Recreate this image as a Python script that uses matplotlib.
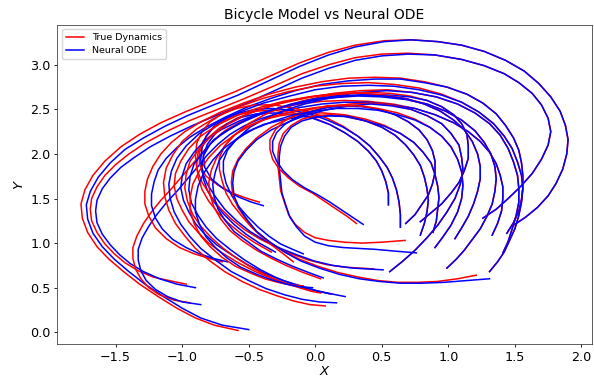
import matplotlib
matplotlib.use("Agg")
import matplotlib.pyplot as plt

# ---- trajectories: (x, y) points, start -> end ----
true_A = [(1.48,1.19),(1.58,1.29),(1.67,1.40),(1.75,1.53),(1.81,1.67),(1.86,1.83),(1.89,2.00),(1.90,2.16),(1.88,2.32),(1.84,2.48),(1.77,2.64),(1.68,2.79),(1.57,2.93),(1.43,3.05),(1.27,3.15),(1.10,3.22),(0.92,3.26),(0.72,3.28),(0.52,3.27),(0.30,3.22),(0.10,3.14),(-0.12,3.02),(-0.36,2.86),(-0.60,2.70),(-0.80,2.58),(-0.98,2.47),(-1.16,2.35),(-1.32,2.22),(-1.46,2.08),(-1.58,1.92),(-1.67,1.76),(-1.73,1.60),(-1.76,1.44),(-1.75,1.28),(-1.71,1.12),(-1.64,0.96),(-1.55,0.82),(-1.44,0.68),(-1.32,0.54),(-1.18,0.40),(-1.04,0.27),(-0.90,0.16),(-0.76,0.08),(-0.58,0.02)]
node_A = [(1.48,1.19),(1.58,1.29),(1.67,1.40),(1.75,1.53),(1.81,1.67),(1.86,1.83),(1.89,2.00),(1.90,2.16),(1.88,2.32),(1.84,2.48),(1.77,2.64),(1.68,2.79),(1.57,2.93),(1.43,3.05),(1.27,3.15),(1.10,3.22),(0.92,3.26),(0.72,3.28),(0.52,3.26),(0.30,3.20),(0.10,3.11),(-0.12,2.98),(-0.35,2.82),(-0.58,2.66),(-0.78,2.54),(-0.96,2.43),(-1.13,2.31),(-1.29,2.18),(-1.43,2.05),(-1.54,1.90),(-1.63,1.74),(-1.69,1.58),(-1.72,1.43),(-1.71,1.27),(-1.67,1.11),(-1.60,0.96),(-1.51,0.82),(-1.40,0.68),(-1.28,0.54),(-1.14,0.40),(-1.00,0.27),(-0.86,0.16),(-0.70,0.08),(-0.50,0.03)]

true_B = [(1.26,1.28),(1.36,1.38),(1.45,1.50),(1.54,1.63),(1.63,1.78),(1.70,1.94),(1.75,2.10),(1.77,2.25),(1.75,2.40),(1.70,2.55),(1.63,2.68),(1.53,2.80),(1.42,2.90),(1.27,2.99),(1.10,3.06),(0.90,3.11),(0.70,3.13),(0.50,3.12),(0.30,3.08),(0.10,3.00),(-0.10,2.90),(-0.33,2.75),(-0.55,2.61),(-0.75,2.49),(-0.95,2.37),(-1.12,2.25),(-1.28,2.12),(-1.40,2.00),(-1.50,1.88),(-1.58,1.76),(-1.64,1.63),(-1.68,1.50),(-1.69,1.38),(-1.68,1.25),(-1.64,1.12),(-1.58,0.99),(-1.51,0.88),(-1.43,0.78),(-1.33,0.69),(-1.22,0.62),(-1.10,0.58),(-0.97,0.54)]
node_B = [(1.26,1.28),(1.36,1.38),(1.45,1.50),(1.54,1.63),(1.63,1.78),(1.70,1.94),(1.75,2.10),(1.77,2.25),(1.75,2.40),(1.70,2.55),(1.63,2.68),(1.53,2.80),(1.42,2.90),(1.27,2.99),(1.10,3.06),(0.90,3.11),(0.70,3.12),(0.50,3.10),(0.30,3.05),(0.10,2.96),(-0.10,2.85),(-0.32,2.70),(-0.53,2.56),(-0.73,2.44),(-0.92,2.32),(-1.09,2.20),(-1.24,2.08),(-1.36,1.96),(-1.46,1.85),(-1.54,1.73),(-1.60,1.61),(-1.64,1.48),(-1.65,1.36),(-1.64,1.23),(-1.60,1.10),(-1.54,0.98),(-1.47,0.87),(-1.39,0.77),(-1.29,0.68),(-1.17,0.60),(-1.04,0.54),(-0.90,0.50)]

true_C = [(1.33,1.09),(1.37,1.22),(1.40,1.36),(1.41,1.50),(1.41,1.63),(1.39,1.76),(1.36,1.89),(1.31,2.02),(1.24,2.14),(1.15,2.25),(1.04,2.35),(0.90,2.44),(0.75,2.51),(0.58,2.56),(0.40,2.59),(0.22,2.60),(0.05,2.59),(-0.12,2.56),(-0.28,2.51),(-0.43,2.44),(-0.56,2.36),(-0.67,2.27),(-0.76,2.16),(-0.84,2.03),(-0.92,1.89),(-1.00,1.75),(-1.08,1.61),(-1.16,1.48),(-1.23,1.35),(-1.29,1.22),(-1.34,1.08),(-1.37,0.95),(-1.37,0.83),(-1.35,0.71),(-1.31,0.60),(-1.25,0.50),(-1.17,0.42),(-1.06,0.36),(-0.94,0.33)]
node_C = [(1.33,1.09),(1.37,1.22),(1.40,1.36),(1.41,1.50),(1.41,1.63),(1.39,1.76),(1.36,1.89),(1.31,2.02),(1.24,2.14),(1.15,2.25),(1.04,2.35),(0.90,2.44),(0.75,2.51),(0.58,2.55),(0.40,2.58),(0.22,2.58),(0.05,2.56),(-0.12,2.52),(-0.27,2.46),(-0.42,2.39),(-0.54,2.31),(-0.64,2.22),(-0.73,2.11),(-0.81,1.99),(-0.88,1.86),(-0.96,1.72),(-1.04,1.58),(-1.12,1.45),(-1.19,1.32),(-1.25,1.19),(-1.30,1.06),(-1.33,0.93),(-1.33,0.81),(-1.31,0.69),(-1.27,0.58),(-1.20,0.48),(-1.11,0.40),(-1.00,0.34),(-0.86,0.31)]

true_D = [(1.44,1.11),(1.49,1.23),(1.53,1.36),(1.55,1.49),(1.56,1.62),(1.56,1.76),(1.55,1.90),(1.53,2.04),(1.49,2.18),(1.43,2.32),(1.36,2.45),(1.26,2.57),(1.14,2.67),(0.99,2.75),(0.82,2.81),(0.64,2.85),(0.45,2.86),(0.25,2.85),(0.05,2.81),(-0.15,2.75),(-0.35,2.67),(-0.54,2.57),(-0.71,2.47),(-0.86,2.36),(-0.98,2.25),(-1.08,2.13),(-1.16,2.00),(-1.22,1.86),(-1.26,1.72),(-1.28,1.58),(-1.28,1.44),(-1.25,1.30),(-1.20,1.17),(-1.12,1.05),(-1.02,0.95),(-0.91,0.88),(-0.80,0.83),(-0.70,0.79)]
node_D = [(1.44,1.11),(1.49,1.23),(1.53,1.36),(1.55,1.49),(1.56,1.62),(1.56,1.76),(1.55,1.90),(1.53,2.04),(1.49,2.18),(1.43,2.32),(1.36,2.45),(1.26,2.57),(1.14,2.67),(0.99,2.75),(0.82,2.80),(0.64,2.84),(0.45,2.84),(0.25,2.82),(0.05,2.78),(-0.15,2.71),(-0.34,2.62),(-0.52,2.52),(-0.68,2.41),(-0.82,2.30),(-0.94,2.19),(-1.04,2.07),(-1.12,1.95),(-1.18,1.82),(-1.21,1.69),(-1.23,1.55),(-1.23,1.42),(-1.20,1.28),(-1.15,1.16),(-1.07,1.04),(-0.97,0.95),(-0.87,0.88),(-0.77,0.83),(-0.66,0.79)]

true_E = [(1.41,0.89),(1.45,1.02),(1.48,1.16),(1.51,1.31),(1.53,1.46),(1.53,1.61),(1.52,1.76),(1.49,1.91),(1.45,2.06),(1.39,2.21),(1.31,2.34),(1.20,2.46),(1.07,2.56),(0.91,2.64),(0.73,2.69),(0.54,2.72),(0.34,2.71),(0.14,2.68),(-0.06,2.63),(-0.25,2.57),(-0.43,2.49),(-0.59,2.40),(-0.72,2.29),(-0.82,2.16),(-0.87,2.02),(-0.87,1.88),(-0.82,1.75),(-0.73,1.65),(-0.62,1.56),(-0.51,1.50),(-0.42,1.46)]
node_E = [(1.41,0.89),(1.45,1.02),(1.48,1.16),(1.51,1.31),(1.53,1.46),(1.53,1.61),(1.52,1.76),(1.49,1.91),(1.45,2.06),(1.39,2.21),(1.31,2.34),(1.20,2.46),(1.07,2.56),(0.91,2.64),(0.73,2.69),(0.54,2.71),(0.34,2.69),(0.14,2.65),(-0.06,2.59),(-0.25,2.52),(-0.42,2.44),(-0.57,2.34),(-0.70,2.23),(-0.79,2.11),(-0.84,1.98),(-0.83,1.85),(-0.78,1.72),(-0.69,1.61),(-0.58,1.52),(-0.48,1.46),(-0.39,1.42)]

true_F = [(0.55,1.43),(0.55,1.56),(0.53,1.69),(0.50,1.81),(0.46,1.92),(0.40,2.03),(0.32,2.14),(0.22,2.24),(0.11,2.33),(-0.02,2.41),(-0.16,2.46),(-0.31,2.49),(-0.45,2.48),(-0.58,2.44),(-0.69,2.37),(-0.78,2.27),(-0.84,2.15),(-0.88,2.02),(-0.89,1.88),(-0.88,1.74),(-0.85,1.60),(-0.80,1.47),(-0.73,1.34),(-0.65,1.22),(-0.56,1.11),(-0.46,1.01),(-0.33,0.90)]
node_F = [(0.55,1.43),(0.55,1.56),(0.53,1.69),(0.50,1.81),(0.46,1.92),(0.40,2.03),(0.32,2.14),(0.22,2.24),(0.11,2.33),(-0.02,2.40),(-0.16,2.44),(-0.30,2.46),(-0.44,2.45),(-0.56,2.41),(-0.67,2.33),(-0.75,2.23),(-0.81,2.11),(-0.84,1.98),(-0.85,1.85),(-0.84,1.72),(-0.81,1.59),(-0.76,1.46),(-0.69,1.33),(-0.61,1.21),(-0.52,1.10),(-0.42,1.00),(-0.30,0.90)]

true_G = [(0.64,1.18),(0.64,1.32),(0.63,1.46),(0.61,1.60),(0.58,1.73),(0.54,1.85),(0.48,1.97),(0.41,2.09),(0.32,2.20),(0.21,2.31),(0.09,2.40),(-0.04,2.47),(-0.18,2.52),(-0.32,2.55),(-0.46,2.55),(-0.59,2.51),(-0.70,2.45),(-0.79,2.36),(-0.85,2.25),(-0.89,2.12),(-0.90,1.98),(-0.89,1.83),(-0.85,1.68),(-0.79,1.54),(-0.72,1.40),(-0.63,1.27),(-0.53,1.15),(-0.42,1.05),(-0.30,0.96),(-0.18,0.88),(-0.05,0.81),(0.08,0.76),(0.22,0.73),(0.44,0.71)]
node_G = [(0.64,1.18),(0.64,1.32),(0.63,1.46),(0.61,1.60),(0.58,1.73),(0.54,1.85),(0.48,1.97),(0.41,2.09),(0.32,2.20),(0.21,2.30),(0.09,2.38),(-0.04,2.45),(-0.18,2.49),(-0.32,2.51),(-0.45,2.50),(-0.57,2.46),(-0.68,2.40),(-0.76,2.31),(-0.82,2.20),(-0.85,2.07),(-0.86,1.94),(-0.85,1.80),(-0.81,1.66),(-0.75,1.52),(-0.68,1.38),(-0.59,1.25),(-0.49,1.13),(-0.38,1.03),(-0.26,0.94),(-0.14,0.87),(-0.01,0.80),(0.13,0.75),(0.28,0.72),(0.51,0.70)]

true_H = [(0.885,1.12),(0.91,1.25),(0.92,1.38),(0.93,1.51),(0.92,1.64),(0.90,1.77),(0.87,1.90),(0.81,2.02),(0.74,2.13),(0.64,2.23),(0.52,2.32),(0.38,2.39),(0.22,2.44),(0.06,2.46),(-0.10,2.46),(-0.26,2.43),(-0.40,2.38),(-0.52,2.30),(-0.62,2.20),(-0.68,2.09),(-0.72,1.96),(-0.72,1.83),(-0.70,1.70),(-0.67,1.56),(-0.62,1.43),(-0.55,1.30),(-0.48,1.18),(-0.40,1.07),(-0.32,0.97),(-0.24,0.88),(-0.165,0.79)]
node_H = [(0.885,1.12),(0.91,1.25),(0.92,1.38),(0.93,1.51),(0.92,1.64),(0.90,1.77),(0.87,1.90),(0.81,2.02),(0.74,2.13),(0.64,2.23),(0.52,2.31),(0.38,2.37),(0.22,2.42),(0.06,2.43),(-0.10,2.42),(-0.25,2.38),(-0.39,2.33),(-0.51,2.25),(-0.60,2.15),(-0.66,2.04),(-0.69,1.92),(-0.69,1.80),(-0.67,1.67),(-0.63,1.54),(-0.58,1.42),(-0.51,1.30),(-0.43,1.18),(-0.35,1.08),(-0.26,0.99),(-0.17,0.93),(-0.09,0.88)]

true_I = [(0.99,0.72),(1.06,0.82),(1.12,0.92),(1.18,1.04),(1.24,1.16),(1.29,1.30),(1.33,1.44),(1.35,1.58),(1.36,1.72),(1.35,1.86),(1.32,2.00),(1.27,2.13),(1.20,2.26),(1.10,2.38),(0.98,2.48),(0.84,2.56),(0.68,2.62),(0.50,2.66),(0.32,2.68),(0.13,2.67),(-0.05,2.64),(-0.24,2.59),(-0.42,2.52),(-0.59,2.43),(-0.74,2.32),(-0.86,2.20),(-0.95,2.06),(-1.01,1.92),(-1.05,1.78),(-1.06,1.64),(-1.04,1.50),(-1.00,1.37),(-0.95,1.24),(-0.88,1.12),(-0.80,1.00),(-0.70,0.89),(-0.58,0.78),(-0.45,0.68),(-0.32,0.60),(-0.20,0.54),(-0.08,0.49),(0.125,0.43)]
node_I = [(0.99,0.72),(1.06,0.82),(1.12,0.92),(1.18,1.04),(1.24,1.16),(1.29,1.30),(1.33,1.44),(1.35,1.58),(1.36,1.72),(1.35,1.86),(1.32,2.00),(1.27,2.13),(1.20,2.26),(1.10,2.38),(0.98,2.48),(0.84,2.56),(0.68,2.61),(0.50,2.64),(0.32,2.65),(0.13,2.63),(-0.05,2.59),(-0.23,2.53),(-0.41,2.46),(-0.57,2.37),(-0.71,2.27),(-0.83,2.15),(-0.91,2.02),(-0.97,1.89),(-1.00,1.75),(-1.01,1.62),(-0.99,1.48),(-0.95,1.35),(-0.90,1.22),(-0.83,1.10),(-0.74,0.98),(-0.63,0.87),(-0.51,0.76),(-0.38,0.66),(-0.24,0.58),(-0.11,0.52),(0.02,0.46),(0.225,0.40)]

true_J = [(1.31,0.68),(1.37,0.79),(1.42,0.90),(1.46,1.03),(1.50,1.16),(1.53,1.31),(1.55,1.46),(1.56,1.61),(1.55,1.76),(1.52,1.91),(1.48,2.06),(1.42,2.20),(1.34,2.34),(1.23,2.47),(1.10,2.58),(0.95,2.67),(0.78,2.74),(0.59,2.78),(0.40,2.80),(0.20,2.79),(0.00,2.76),(-0.20,2.70),(-0.40,2.62),(-0.59,2.52),(-0.76,2.40),(-0.89,2.28),(-1.00,2.14),(-1.07,1.99),(-1.12,1.84),(-1.14,1.68),(-1.13,1.52),(-1.10,1.37),(-1.05,1.22),(-0.98,1.08),(-0.90,0.94),(-0.80,0.81),(-0.68,0.68),(-0.55,0.57),(-0.42,0.48),(-0.29,0.41),(-0.16,0.35),(-0.04,0.31),(0.075,0.295)]
node_J = [(1.31,0.68),(1.37,0.79),(1.42,0.90),(1.46,1.03),(1.50,1.16),(1.53,1.31),(1.55,1.46),(1.56,1.61),(1.55,1.76),(1.52,1.91),(1.48,2.06),(1.42,2.20),(1.34,2.34),(1.23,2.47),(1.10,2.58),(0.95,2.66),(0.78,2.72),(0.59,2.76),(0.40,2.77),(0.20,2.76),(0.00,2.72),(-0.19,2.65),(-0.39,2.57),(-0.57,2.47),(-0.74,2.35),(-0.87,2.23),(-0.97,2.09),(-1.04,1.95),(-1.08,1.81),(-1.10,1.66),(-1.09,1.50),(-1.06,1.35),(-1.01,1.21),(-0.94,1.07),(-0.86,0.94),(-0.75,0.81),(-0.63,0.68),(-0.50,0.58),(-0.37,0.49),(-0.23,0.42),(-0.10,0.37),(0.03,0.34),(0.16,0.33)]

true_K = [(0.56,0.68),(0.66,0.80),(0.75,0.92),(0.84,1.06),(0.92,1.20),(0.99,1.35),(1.05,1.50),(1.09,1.66),(1.11,1.82),(1.10,1.96),(1.08,2.10),(1.02,2.23),(0.95,2.34),(0.84,2.43),(0.72,2.50),(0.57,2.55),(0.42,2.57),(0.26,2.56),(0.10,2.53),(-0.06,2.47),(-0.20,2.40),(-0.33,2.30),(-0.44,2.18),(-0.52,2.06),(-0.58,1.94),(-0.62,1.81),(-0.63,1.68),(-0.62,1.54),(-0.58,1.40),(-0.52,1.27),(-0.45,1.14),(-0.35,1.02),(-0.24,0.91),(-0.12,0.82),(0.02,0.74),(0.17,0.67),(0.32,0.62),(0.47,0.58),(0.62,0.56),(0.77,0.56),(0.92,0.57),(1.07,0.60),(1.21,0.64)]
node_K = [(0.56,0.68),(0.66,0.80),(0.75,0.92),(0.84,1.06),(0.92,1.20),(0.99,1.35),(1.05,1.50),(1.09,1.66),(1.11,1.82),(1.10,1.96),(1.08,2.10),(1.02,2.23),(0.95,2.34),(0.84,2.43),(0.72,2.50),(0.57,2.54),(0.42,2.56),(0.26,2.54),(0.10,2.50),(-0.06,2.44),(-0.20,2.36),(-0.33,2.27),(-0.44,2.16),(-0.52,2.04),(-0.58,1.92),(-0.61,1.80),(-0.62,1.67),(-0.61,1.53),(-0.57,1.39),(-0.51,1.26),(-0.44,1.13),(-0.34,1.01),(-0.23,0.90),(-0.11,0.80),(0.03,0.72),(0.18,0.65),(0.33,0.60),(0.48,0.57),(0.64,0.55),(0.80,0.55),(0.97,0.56),(1.14,0.58),(1.31,0.60)]

true_L = [(0.79,1.09),(0.82,1.22),(0.84,1.35),(0.85,1.48),(0.84,1.61),(0.82,1.74),(0.79,1.87),(0.74,1.99),(0.68,2.10),(0.60,2.21),(0.50,2.30),(0.38,2.37),(0.25,2.42),(0.12,2.44),(0.00,2.43),(-0.10,2.39),(-0.18,2.32),(-0.24,2.23),(-0.27,2.12),(-0.28,2.00),(-0.28,1.87),(-0.27,1.73),(-0.26,1.59),(-0.23,1.45),(-0.20,1.32),(-0.15,1.21),(-0.08,1.12),(0.00,1.06),(0.10,1.03),(0.22,1.01),(0.35,1.00),(0.50,1.01),(0.675,1.03)]
node_L = [(0.79,1.09),(0.82,1.22),(0.84,1.35),(0.85,1.48),(0.84,1.61),(0.82,1.74),(0.79,1.87),(0.74,1.99),(0.68,2.10),(0.60,2.21),(0.50,2.30),(0.38,2.37),(0.25,2.42),(0.12,2.43),(0.00,2.41),(-0.10,2.37),(-0.18,2.30),(-0.23,2.20),(-0.26,2.09),(-0.27,1.97),(-0.27,1.84),(-0.26,1.70),(-0.25,1.56),(-0.22,1.42),(-0.19,1.29),(-0.14,1.18),(-0.08,1.08),(0.00,1.01),(0.10,0.97),(0.21,0.95),(0.33,0.94),(0.45,0.93),(0.60,0.91),(0.76,0.89)]

true_M = [(0.68,1.22),(0.75,1.32),(0.80,1.43),(0.85,1.54),(0.88,1.66),(0.90,1.79),(0.90,1.92),(0.88,2.04),(0.84,2.16),(0.78,2.27),(0.70,2.36),(0.60,2.44),(0.48,2.50),(0.35,2.54),(0.22,2.55),(0.09,2.54),(-0.04,2.50),(-0.15,2.44),(-0.24,2.36),(-0.30,2.27),(-0.34,2.16),(-0.34,2.05),(-0.32,1.94),(-0.27,1.83),(-0.20,1.73),(-0.12,1.64),(-0.02,1.56),(0.07,1.47),(0.16,1.38),(0.24,1.30),(0.31,1.22)]
node_M = [(0.68,1.22),(0.75,1.32),(0.80,1.43),(0.85,1.54),(0.88,1.66),(0.90,1.79),(0.90,1.92),(0.88,2.04),(0.84,2.16),(0.78,2.27),(0.70,2.36),(0.60,2.44),(0.48,2.50),(0.35,2.53),(0.22,2.54),(0.09,2.52),(-0.04,2.47),(-0.14,2.41),(-0.23,2.33),(-0.29,2.24),(-0.32,2.14),(-0.32,2.03),(-0.29,1.92),(-0.24,1.81),(-0.17,1.71),(-0.08,1.62),(0.02,1.54),(0.11,1.46),(0.20,1.37),(0.28,1.29),(0.36,1.21)]

true_N = [(0.79,1.24),(0.87,1.34),(0.95,1.44),(1.02,1.56),(1.08,1.68),(1.12,1.81),(1.15,1.95),(1.15,2.09),(1.14,2.22),(1.10,2.34),(1.04,2.44),(0.95,2.53),(0.84,2.60),(0.71,2.65),(0.56,2.68),(0.40,2.69),(0.24,2.68),(0.08,2.65),(-0.08,2.60),(-0.24,2.53),(-0.38,2.44),(-0.50,2.34),(-0.60,2.22),(-0.68,2.09),(-0.74,1.96),(-0.78,1.82),(-0.80,1.68),(-0.79,1.54),(-0.76,1.40),(-0.71,1.27),(-0.64,1.14),(-0.55,1.03),(-0.44,0.92),(-0.33,0.83),(-0.22,0.75),(-0.09,0.67),(0.04,0.60)]
node_N = [(0.79,1.24),(0.87,1.34),(0.95,1.44),(1.02,1.56),(1.08,1.68),(1.12,1.81),(1.15,1.95),(1.15,2.09),(1.14,2.22),(1.10,2.34),(1.04,2.44),(0.95,2.53),(0.84,2.60),(0.71,2.64),(0.56,2.66),(0.40,2.67),(0.24,2.65),(0.08,2.62),(-0.08,2.56),(-0.23,2.49),(-0.37,2.40),(-0.49,2.30),(-0.58,2.18),(-0.66,2.06),(-0.72,1.93),(-0.75,1.80),(-0.77,1.66),(-0.76,1.52),(-0.73,1.38),(-0.68,1.26),(-0.61,1.13),(-0.51,1.02),(-0.41,0.91),(-0.29,0.82),(-0.17,0.74),(-0.05,0.67),(0.06,0.61)]

true_O = [(1.05,1.05),(1.10,1.17),(1.15,1.30),(1.19,1.44),(1.22,1.58),(1.24,1.72),(1.24,1.86),(1.22,2.00),(1.18,2.14),(1.12,2.27),(1.04,2.38),(0.94,2.48),(0.82,2.56),(0.68,2.62),(0.52,2.66),(0.35,2.68),(0.18,2.68),(0.00,2.65),(-0.18,2.60),(-0.36,2.53),(-0.52,2.44),(-0.66,2.33),(-0.78,2.20),(-0.87,2.06),(-0.94,1.92),(-0.97,1.77),(-0.98,1.62),(-0.96,1.47),(-0.92,1.32),(-0.86,1.19),(-0.78,1.06),(-0.69,0.94),(-0.58,0.82),(-0.46,0.71),(-0.34,0.62),(-0.23,0.55),(-0.12,0.50),(-0.03,0.46),(0.04,0.44)]
node_O = [(1.05,1.05),(1.10,1.17),(1.15,1.30),(1.19,1.44),(1.22,1.58),(1.24,1.72),(1.24,1.86),(1.22,2.00),(1.18,2.14),(1.12,2.27),(1.04,2.38),(0.94,2.48),(0.82,2.56),(0.68,2.62),(0.52,2.65),(0.35,2.66),(0.18,2.65),(0.00,2.62),(-0.18,2.56),(-0.35,2.48),(-0.51,2.39),(-0.64,2.28),(-0.76,2.16),(-0.84,2.02),(-0.91,1.89),(-0.94,1.75),(-0.95,1.60),(-0.93,1.45),(-0.88,1.31),(-0.82,1.18),(-0.74,1.05),(-0.64,0.93),(-0.53,0.81),(-0.41,0.70),(-0.29,0.61),(-0.17,0.54),(-0.05,0.49),(0.03,0.46),(0.11,0.43)]

true_P = [(0.90,0.95),(0.96,1.07),(1.02,1.20),(1.07,1.35),(1.10,1.50),(1.11,1.65),(1.10,1.80),(1.07,1.94),(1.02,2.08),(0.95,2.20),(0.86,2.30),(0.75,2.39),(0.62,2.46),(0.47,2.51),(0.32,2.54),(0.16,2.54),(0.00,2.52),(-0.16,2.48),(-0.32,2.42),(-0.47,2.33),(-0.60,2.22),(-0.71,2.10),(-0.80,1.96),(-0.87,1.81),(-0.92,1.66),(-0.94,1.51),(-0.94,1.36),(-0.91,1.22),(-0.86,1.08),(-0.79,0.96),(-0.70,0.84),(-0.60,0.74),(-0.48,0.66),(-0.38,0.60),(-0.28,0.56),(-0.18,0.53),(-0.09,0.52)]
node_P = [(0.90,0.95),(0.96,1.07),(1.02,1.20),(1.07,1.35),(1.10,1.50),(1.11,1.65),(1.10,1.80),(1.07,1.94),(1.02,2.08),(0.95,2.20),(0.86,2.30),(0.75,2.38),(0.62,2.44),(0.47,2.49),(0.32,2.51),(0.16,2.51),(0.00,2.48),(-0.16,2.44),(-0.31,2.37),(-0.46,2.28),(-0.58,2.18),(-0.69,2.06),(-0.77,1.93),(-0.84,1.78),(-0.88,1.64),(-0.90,1.49),(-0.90,1.35),(-0.87,1.21),(-0.82,1.07),(-0.75,0.95),(-0.66,0.83),(-0.56,0.73),(-0.44,0.65),(-0.33,0.59),(-0.22,0.54),(-0.12,0.51),(-0.02,0.50)]

true_paths = [true_A, true_B, true_C, true_D, true_E, true_F, true_G, true_H,
              true_I, true_J, true_K, true_L, true_M, true_N, true_O, true_P]
node_paths = [node_A, node_B, node_C, node_D, node_E, node_F, node_G, node_H,
              node_I, node_J, node_K, node_L, node_M, node_N, node_O, node_P]

series_labels = ["True Dynamics", "Neural ODE"]
title = "Bicycle Model vs Neural ODE"
xticks = [-1.5, -1.0, -0.5, 0.0, 0.5, 1.0, 1.5, 2.0]
yticks = [0.0, 0.5, 1.0, 1.5, 2.0, 2.5, 3.0]

fig = plt.figure(figsize=(5.94, 3.79), dpi=100)
ax = fig.add_axes([0.096, 0.0916, 0.9007, 0.8433])

for i, (tp, npth) in enumerate(zip(true_paths, node_paths)):
    tx, ty = zip(*tp)
    nx, ny = zip(*npth)
    ax.plot(tx, ty, color="red", lw=1.1, solid_joinstyle="round",
            label=series_labels[0] if i == 0 else None)
    ax.plot(nx, ny, color="blue", lw=1.1, solid_joinstyle="round",
            label=series_labels[1] if i == 0 else None)

ax.set_xlim(-1.94, 2.08)
ax.set_ylim(-0.135, 3.45)
ax.set_xticks(xticks)
ax.set_yticks(yticks)
ax.tick_params(labelsize=9.2, length=2.2, width=0.6, pad=2.5)
for s in ax.spines.values():
    s.set_linewidth(0.6)
    s.set_color("#444444")
ax.set_xlabel("$X$", fontsize=9.5, labelpad=1)
ax.set_ylabel("$Y$", fontsize=9.5, labelpad=3)
ax.set_title(title, fontsize=10, pad=4)
ax.legend(loc="upper left", fontsize=6.8, handlelength=2.0, borderpad=0.4,
          labelspacing=0.4)

fig.savefig("out.png", dpi=100)
